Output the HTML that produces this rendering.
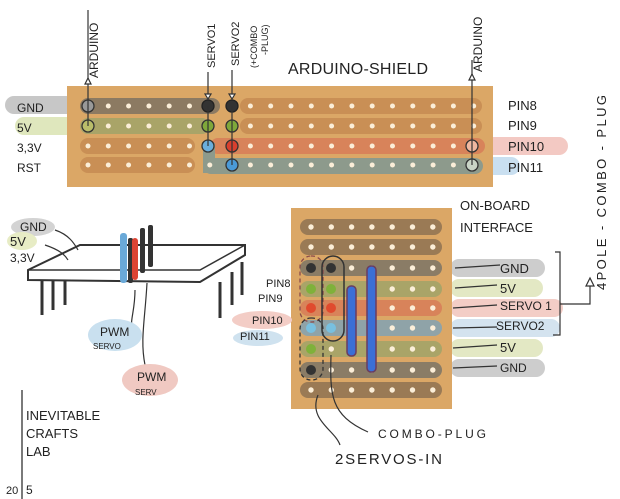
<!DOCTYPE html>
<html><head><meta charset="utf-8"><style>
html,body{margin:0;padding:0;background:#fff;}
svg{display:block;}
text{font-family:"Liberation Sans",sans-serif;fill:#222;}
</style></head><body>
<svg id="s" width="620" height="499" viewBox="0 0 620 499" xmlns="http://www.w3.org/2000/svg">
<rect x="5" y="96" width="95" height="18" rx="9" fill="#c7c7c7"/>
<rect x="15" y="117" width="80" height="18" rx="9" fill="#dfe7bd"/>
<rect x="460" y="137" width="108" height="18" rx="9" fill="#f3c9c3"/>
<rect x="460" y="157" width="60" height="18" rx="9" fill="#c9dff0"/>
<rect x="67" y="86" width="426" height="101" fill="#dba766"/>
<rect x="80" y="138" width="115" height="16" rx="8" fill="#c98f55"/>
<rect x="80" y="157" width="115" height="16" rx="8" fill="#c98f55"/>
<rect x="240" y="98" width="242" height="16" rx="8" fill="#c98f55"/>
<rect x="240" y="118" width="242" height="16" rx="8" fill="#c98f55"/>
<rect x="80" y="98" width="140" height="16" rx="8" fill="#8c7a62"/>
<rect x="80" y="118" width="130" height="16" rx="8" fill="#a9a468"/>
<rect x="203" y="158" width="280" height="16" rx="8" fill="#8d9a8c"/>
<rect x="210" y="138" width="275" height="16" rx="8" fill="#d8835a"/>
<rect x="203" y="143" width="12" height="30" fill="#8d9a8c"/>
<g id="topholes"></g>
<rect x="450" y="259" width="95" height="18" rx="9" fill="#cdcdcd"/>
<rect x="450" y="279" width="93" height="18" rx="9" fill="#e3e8c4"/>
<rect x="450" y="299" width="113" height="18" rx="9" fill="#f3cdc6"/>
<rect x="450" y="319" width="110" height="18" rx="9" fill="#d4e3ef"/>
<rect x="450" y="339" width="93" height="18" rx="9" fill="#e3e8c4"/>
<rect x="450" y="359" width="95" height="18" rx="9" fill="#cdcdcd"/>
<rect x="291" y="208" width="161" height="201" fill="#dba766"/>
<g id="botholes"></g>
<rect x="347" y="286" width="9" height="70" rx="4" fill="#3b6fd6" stroke="#6a3d60" stroke-width="1.5"/>
<rect x="367" y="266" width="9" height="106" rx="4" fill="#3b6fd6" stroke="#6a3d60" stroke-width="1.5"/>
<rect x="300" y="256" width="23" height="66" rx="11" fill="none" stroke="#8a4a4a" stroke-width="1.3" stroke-dasharray="4,3"/>
<rect x="300" y="318" width="23" height="62" rx="11" fill="none" stroke="#333" stroke-width="1.3" stroke-dasharray="4,3"/>
<rect x="322" y="256" width="22" height="85" rx="11" fill="none" stroke="#333" stroke-width="1.5"/>
<g stroke="#333" stroke-width="1.2" fill="none">
<line x1="88" y1="10" x2="88" y2="126"/><path d="M85,84 L88,78 L91,84Z" fill="#fff"/>
<line x1="472" y1="60" x2="472" y2="165"/><path d="M469,80 L472,74 L475,80Z" fill="#fff"/>
<line x1="208" y1="72" x2="208" y2="98"/><path d="M205,94 L208,99 L211,94Z" fill="#fff"/>
<line x1="232" y1="70" x2="232" y2="98"/><path d="M229,94 L232,99 L235,94Z" fill="#fff"/>
<line x1="208" y1="106" x2="208" y2="146"/><line x1="232" y1="106" x2="232" y2="165"/>
<path d="M455,268 L500,265"/><path d="M455,288 L497,285"/><path d="M453,308 L497,305"/>
<path d="M453,328 L497,327"/><path d="M453,348 L497,345"/><path d="M453,368 L497,366"/>
<path d="M555,252 L560,252 L560,335 L553,335"/><path d="M560,304 L590,304 L590,285"/>
<path d="M586,286 L590,278 L594,286Z" fill="#fff"/>
<path d="M318,395 C308,420 335,430 340,445"/><path d="M331,355 C330,395 330,415 368,432"/>
<path d="M28,270 L80,245 L245,245 L245,255 L200,282 L28,280Z" fill="#fff" stroke-width="2"/>
<path d="M28,270 L200,270 L245,245" stroke-width="1.5"/>
<path d="M200,282 L245,255"/>
<line x1="42" y1="280" x2="42" y2="315" stroke-width="3"/>
<line x1="53" y1="280" x2="53" y2="310" stroke-width="3"/>
<line x1="65" y1="280" x2="65" y2="305" stroke-width="3"/>
<line x1="220" y1="282" x2="220" y2="318" stroke-width="3"/>
<line x1="232" y1="272" x2="232" y2="305" stroke-width="3"/>
<line x1="242" y1="262" x2="242" y2="295" stroke-width="3"/>
<path d="M55,230 C70,235 75,245 78,250"/><path d="M45,245 C60,250 65,255 68,260"/>
<path d="M135,290 C135,310 130,320 132,328"/><path d="M147,283 C145,320 140,340 145,365"/>
<line x1="22" y1="390" x2="22" y2="499" stroke-width="1.3"/>
</g>
<g>
<rect x="120" y="233" width="7" height="50" rx="3" fill="#6aa9d8"/>
<rect x="128" y="238" width="5" height="45" rx="2" fill="#333"/>
<rect x="132" y="238" width="6" height="42" rx="3" fill="#dd4433"/>
<rect x="140" y="228" width="5" height="45" rx="2" fill="#333"/>
<rect x="148" y="225" width="5" height="42" rx="2" fill="#333"/>
</g>
<ellipse cx="33" cy="227" rx="22" ry="9" fill="#d3d3d3"/>
<ellipse cx="22" cy="241" rx="15" ry="9" fill="#e7ecc5"/>
<ellipse cx="115" cy="335" rx="27" ry="16" fill="#c9e0ef"/>
<ellipse cx="150" cy="380" rx="28" ry="16" fill="#f0c9c2"/>
<ellipse cx="262" cy="320" rx="30" ry="9" fill="#f3cdc6"/>
<ellipse cx="258" cy="338" rx="25" ry="8" fill="#cfe2ef"/>
<g font-size="12">
<text x="0" y="0" transform="translate(98,78) rotate(-90)">ARDUINO</text>
<text x="0" y="0" transform="translate(482,72) rotate(-90)">ARDUINO</text>
<text x="0" y="0" transform="translate(215,68) rotate(-90)" font-size="11">SERVO1</text>
<text x="0" y="0" transform="translate(239,66) rotate(-90)" font-size="11">SERVO2</text>
<text x="0" y="0" transform="translate(257,68) rotate(-90)" font-size="9">(+COMBO</text>
<text x="0" y="0" transform="translate(268,55) rotate(-90)" font-size="9">-PLUG)</text>
<text x="288" y="74" font-size="16" textLength="140">ARDUINO-SHIELD</text>
<text x="17" y="112">GND</text><text x="17" y="132">5V</text>
<text x="17" y="152">3,3V</text><text x="17" y="172">RST</text>
<text x="508" y="110" font-size="13">PIN8</text><text x="508" y="130" font-size="13">PIN9</text>
<text x="508" y="151" font-size="13">PIN10</text><text x="508" y="172" font-size="13">PIN11</text>
<text x="0" y="0" transform="translate(606,290) rotate(-90)" font-size="13" textLength="195">4POLE - COMBO - PLUG</text>
<text x="460" y="210" font-size="13">ON-BOARD</text>
<text x="460" y="232" font-size="13">INTERFACE</text>
<text x="500" y="273" font-size="13">GND</text><text x="500" y="293" font-size="13">5V</text>
<text x="500" y="310" font-size="12">SERVO 1</text><text x="496" y="330" font-size="12">SERVO2</text>
<text x="500" y="352" font-size="13">5V</text><text x="500" y="372" font-size="12">GND</text>
<text x="378" y="438" font-size="12" textLength="108">COMBO-PLUG</text>
<text x="335" y="464" font-size="15" textLength="107">2SERVOS-IN</text>
<text x="20" y="231">GND</text><text x="10" y="246" font-size="13">5V</text><text x="10" y="262">3,3V</text>
<text x="266" y="287" font-size="11">PIN8</text><text x="258" y="302" font-size="11">PIN9</text>
<text x="252" y="324" font-size="11">PIN10</text><text x="240" y="340" font-size="11">PIN11</text>
<text x="100" y="336" font-size="12">PWM</text><text x="93" y="349" font-size="8">SERVO</text>
<text x="137" y="381" font-size="12">PWM</text><text x="135" y="395" font-size="8">SERV</text>
<text x="26" y="420" font-size="13">INEVITABLE</text>
<text x="26" y="438" font-size="13">CRAFTS</text>
<text x="26" y="456" font-size="13">LAB</text>
<text x="6" y="494" font-size="11">20</text><text x="26" y="494" font-size="12">5</text>
</g>
</svg>
<script>
var NS="http://www.w3.org/2000/svg";
function c(g,x,y,r,f,s){var e=document.createElementNS(NS,"circle");e.setAttribute("cx",x);e.setAttribute("cy",y);e.setAttribute("r",r);e.setAttribute("fill",f);if(s){e.setAttribute("stroke",s);e.setAttribute("stroke-width",1.3);}g.appendChild(e);}
var t=document.getElementById("topholes"),rows=[106,126,146,165];
for(var j=0;j<20;j++){var x=88+j*20.3;for(var i=0;i<4;i++){c(t,x,rows[i],2.5,"#fbeed8");}}
c(t,88,106,6,"#999","#333");c(t,88,126,6,"#b9bd6a","#333");
c(t,208,106,6,"#333","#222");c(t,232,106,6,"#333","#222");
c(t,208,126,6,"#7fa83a","#333");c(t,232,126,6,"#7fa83a","#333");
c(t,208,146,6,"#6aaedc","#333");c(t,232,146,6,"#d8402e","#333");c(t,232,165,6,"#4a9ad8","#333");
c(t,472,146,6,"#f0b8a0","#333");c(t,472,165,6,"#c9d4c6","#333");
var b=document.getElementById("botholes"),br=[227,247,268,289,308,328,349,370,390];
var strips=["#9a7a55","#9a7a55","#8a7c66","#a9a468","#d8835a","#8fa3a8","#a9a468","#8a7c66","#9a7a55"];
for(var i=0;i<9;i++){var r=document.createElementNS(NS,"rect");r.setAttribute("x",300);r.setAttribute("y",br[i]-8);r.setAttribute("width",142);r.setAttribute("height",16);r.setAttribute("rx",8);r.setAttribute("fill",strips[i]);b.appendChild(r);
for(var j=0;j<7;j++){c(b,311+j*20.3,br[i],2.7,"#fbeed8");}}
var L=[null,null,"#333","#7fb13a","#e04a2e","#78c0e0","#7fb13a","#333"];
var R=[null,null,"#333","#7fb13a","#e04a2e","#78c0e0"];
for(var i=2;i<8;i++){c(b,311,br[i],5,L[i]);}
for(var i=2;i<6;i++){c(b,331,br[i],5,R[i]);}
</script>
</body></html>
